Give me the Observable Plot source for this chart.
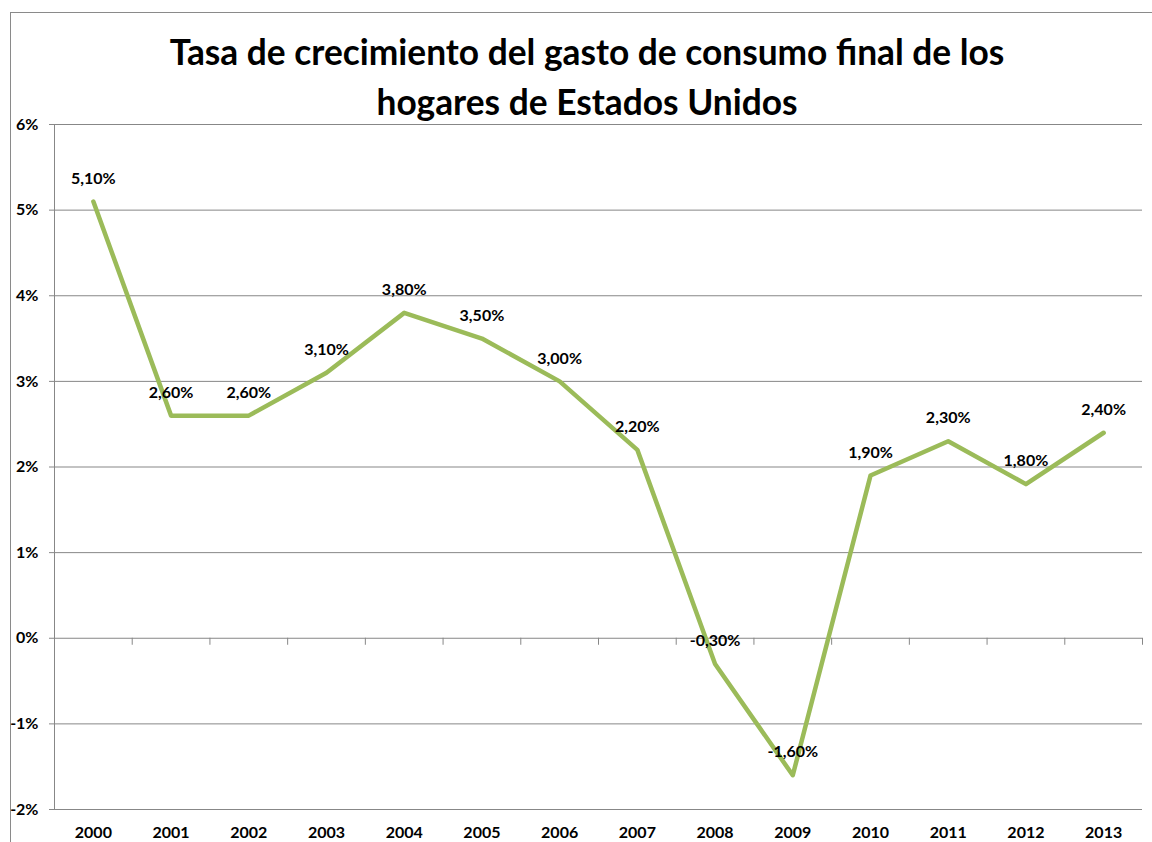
<!DOCTYPE html>
<html><head><meta charset="utf-8">
<script src="https://cdn.jsdelivr.net/npm/d3@7"></script>
<script src="https://cdn.jsdelivr.net/npm/@observablehq/plot@0.6"></script>
<style>
body{margin:0;background:#fff;}
#wrap{position:relative;width:1152px;height:842px;overflow:hidden;font-family:Lato,"Open Sans",sans-serif;}
#frame{position:absolute;left:10px;top:12px;width:1300px;height:1000px;border-left:1px solid #8a8a8a;border-top:1px solid #8a8a8a;box-sizing:border-box;}
#title{position:relative;box-sizing:border-box;height:110px;width:1174px;text-align:center;font-weight:bold;font-size:35.3px;line-height:50px;padding-top:27px;color:#000;}
#chart{position:relative;}
</style>
</head><body>
<div id="wrap">
<div id="frame"></div>
<div id="title">Tasa de crecimiento del gasto de consumo final de los<br>hogares de Estados Unidos</div>
<div id="chart"></div>
</div>
<script>
const years = [2000,2001,2002,2003,2004,2005,2006,2007,2008,2009,2010,2011,2012,2013];
const growth = [5.1,2.6,2.6,3.1,3.8,3.5,3.0,2.2,-0.3,-1.6,1.9,2.3,1.8,2.4];
const yTicks = [-2,-1,0,1,2,3,4,5,6];

const data = years.map((y,i)=>({year:y, value:growth[i]}));
const boundaries = d3.range(years.length+1).map(i => years[0]-0.5+i);
const grid = "#878787";
const fmt = v => v.toFixed(2).replace(".", ",") + "%";

const plot = Plot.plot({
  width: 1152,
  height: 732,
  marginTop: 14,
  marginBottom: 33,
  marginLeft: 54,
  marginRight: 10,
  style: {fontFamily: "Lato, 'Open Sans', sans-serif", fontSize: "16px", fontWeight: "bold", color: "#000", background: "transparent"},
  x: {type: "linear", domain: [years[0]-0.5, years[years.length-1]+0.5]},
  y: {domain: [-2, 6]},
  marks: [
    Plot.gridY(yTicks, {stroke: grid, strokeOpacity: 1}),
    Plot.ruleX([years[0]-0.5], {stroke: grid, strokeOpacity: 1}),
    Plot.ruleX(boundaries, {y1: 0, y2: 0, insetBottom: -7, stroke: grid, strokeOpacity: 1}),
    Plot.axisY({ticks: yTicks, tickFormat: d => d + "%", tickSize: 5, tickPadding: 11, stroke: grid, strokeOpacity: 1, fill: "#000", fontSize: 16, fontWeight: "bold", label: null}),
    Plot.axisX({ticks: years, tickFormat: d => String(d), tickSize: 0, tickPadding: 17, fill: "#000", fontSize: 16, fontWeight: "bold", label: null}),
    Plot.line(data, {x: "year", y: "value", stroke: "#9bbb59", strokeWidth: 4.5, strokeLinejoin: "round", strokeLinecap: "round"}),
    Plot.text(data, {x: "year", y: "value", text: d => fmt(d.value), dy: -23, fill: "#000", fontSize: 16, fontWeight: "bold"})
  ]
});
document.getElementById("chart").appendChild(plot);
</script>
</body></html>
